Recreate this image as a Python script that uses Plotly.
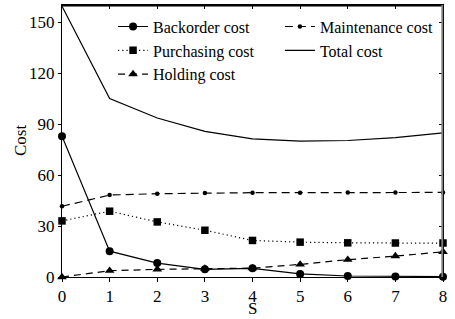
import plotly.graph_objects as go

S = [0, 1, 2, 3, 4, 5, 6, 7, 8, 9]
backorder = [82.8, 15.2, 8.2, 4.5, 5.1, 1.8, 0.6, 0.3, 0.2, 0.1]
purchasing = [33.0, 38.7, 32.4, 27.5, 21.5, 20.5, 20.1, 20.0, 20.0, 19.8]
holding = [0.0, 3.7, 4.5, 5.0, 5.2, 7.4, 10.2, 12.3, 14.8, 17.3]
maintenance = [41.6, 48.2, 49.0, 49.4, 49.6, 49.6, 49.7, 49.7, 49.7, 49.8]
total = [159.3, 105.0, 93.5, 85.7, 81.2, 79.9, 80.3, 82.0, 84.8, 87.2]
xticks = [0, 1, 2, 3, 4, 5, 6, 7, 8]
yticks = [0, 30, 60, 90, 120, 150]

FONT = "Liberation Serif, Times New Roman, Times, serif"
XMAX = 8
YMAX = 160

fig = go.Figure()
fig.add_trace(go.Scatter(x=S, y=backorder, name="Backorder cost", mode="lines+markers",
                         line=dict(color="black", width=1.2), cliponaxis=False,
                         marker=dict(symbol="circle", size=8, color="black"), legend="legend"))
fig.add_trace(go.Scatter(x=S, y=purchasing, name="Purchasing cost", mode="lines+markers",
                         line=dict(color="black", width=1.2, dash="1.2px,3px"), cliponaxis=False,
                         marker=dict(symbol="square", size=7.5, color="black"), legend="legend"))
fig.add_trace(go.Scatter(x=S, y=holding, name="Holding cost", mode="lines+markers",
                         line=dict(color="black", width=1.2, dash="7px,5px"), cliponaxis=False,
                         marker=dict(symbol="triangle-up", size=8.5, color="black"), legend="legend"))
fig.add_trace(go.Scatter(x=S, y=maintenance, name="Maintenance cost", mode="lines+markers",
                         line=dict(color="black", width=1.2, dash="8px,5px"), cliponaxis=False,
                         marker=dict(symbol="circle", size=4.5, color="black"), legend="legend2"))
fig.add_trace(go.Scatter(x=S, y=total, name="Total cost", mode="lines",
                         line=dict(color="black", width=1.2), cliponaxis=False, legend="legend2"))
# placeholder trace so the top/right tick axes are drawn
fig.add_trace(go.Scatter(x=[None], y=[None], xaxis="x2", yaxis="y2", mode="markers",
                         showlegend=False, hoverinfo="skip"))

# frame lines (top black, right grey), drawn slightly inside the plot edge
fig.add_shape(type="line", xref="paper", yref="paper", x0=0, x1=1, y0=0.997, y1=0.997,
              line=dict(color="black", width=1.5), layer="above")
fig.add_shape(type="line", xref="paper", yref="paper", x0=0.998, x1=0.998, y0=0, y1=1,
              line=dict(color="#808080", width=1.8), layer="above")

fig.add_annotation(x=4, xref="x", y=-0.116, yref="paper", text="S", showarrow=False,
                   yanchor="middle", font=dict(family=FONT, size=17, color="black"))
fig.add_annotation(x=-0.1102, xref="paper", y=0.50, yref="paper", text="Cost", showarrow=False,
                   textangle=-90, xanchor="center", yanchor="middle",
                   font=dict(family=FONT, size=17, color="black"))

axis_common = dict(showgrid=False, zeroline=False, automargin=False, tickcolor="black")

fig.update_layout(
    template="none",
    width=455, height=319,
    margin=dict(l=62, r=12, t=5, b=42, autoexpand=False),
    paper_bgcolor="white", plot_bgcolor="rgba(0,0,0,0)",
    font=dict(family=FONT, size=17, color="black"),
    xaxis=dict(range=[0, XMAX], domain=[0, 1], tickvals=xticks, ticks="outside", ticklen=4,
               showline=True, linecolor="black", linewidth=1, mirror=True,
               tickfont=dict(size=17), anchor="y", **axis_common),
    yaxis=dict(range=[0, YMAX], tickvals=yticks, ticks="outside", ticklen=3,
               showline=True, linecolor="black", linewidth=1, mirror=True,
               tickfont=dict(size=17), anchor="x", **axis_common),
    xaxis2=dict(range=[0, XMAX], overlaying="x", tickvals=xticks,
                ticks="inside", ticklen=4, showline=False,
                showticklabels=False, side="top", anchor="y", **axis_common),
    yaxis2=dict(range=[0, YMAX], overlaying="y", tickvals=yticks, ticks="inside", ticklen=4,
                showline=False, showticklabels=False, side="right", anchor="x", **axis_common),
    legend=dict(x=0.134, y=0.983, xanchor="left", yanchor="top", bgcolor="rgba(0,0,0,0)",
                font=dict(size=16), traceorder="normal", itemwidth=30),
    legend2=dict(x=0.572, y=0.983, xanchor="left", yanchor="top", bgcolor="rgba(0,0,0,0)",
                 font=dict(size=16), traceorder="normal", itemwidth=30),
)

fig.write_html("out.html", config={"displayModeBar": False},
               post_script="document.body.style.margin='0';document.body.style.padding='0';")
